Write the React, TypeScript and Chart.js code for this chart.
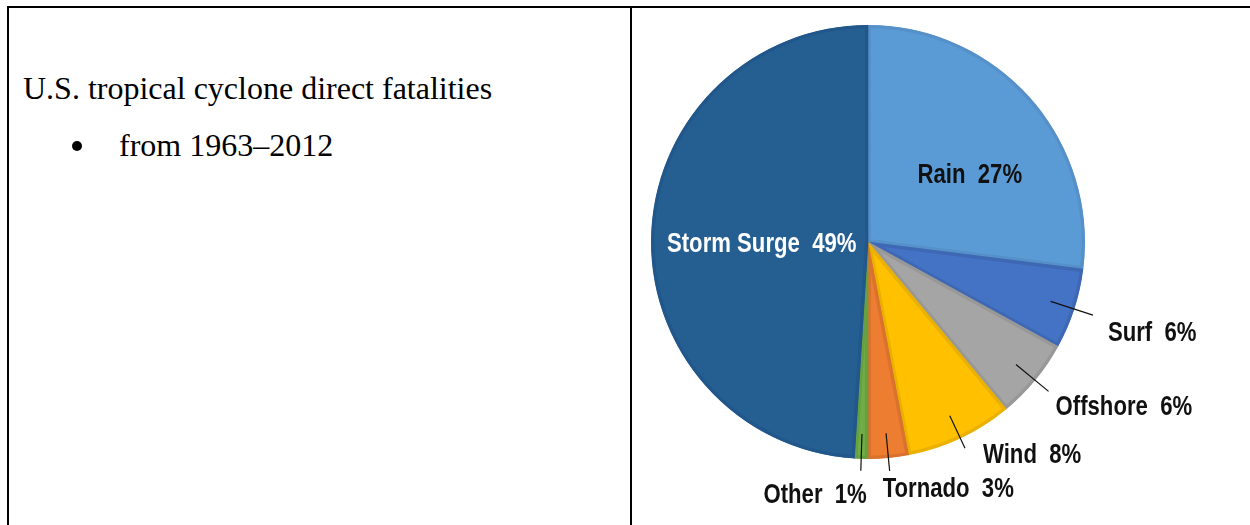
import React, { useEffect, useRef } from "react";
import { Chart, registerables } from "chart.js";

Chart.register(...registerables);

// ---- data ----
const categories = ["Rain", "Surf", "Offshore", "Wind", "Tornado", "Other", "Storm Surge"];
const percentages = [27, 6, 6, 8, 3, 1, 49];

// ---- styles ----
const fillColors = ["#5B9BD5", "#4472C4", "#A5A5A5", "#FFC000", "#ED7D31", "#70AD47", "#255E91"];
const borderColors = ["#5690C9", "#3E68B3", "#989898", "#EBB100", "#D9722C", "#66A040", "#21578A"];

type LabelStyle = {
  mode: "inside" | "leader";
  rFrac?: number;
  r0?: number;
  r1?: number;
  dx: number;
  dy: number;
  align: "left" | "center" | "right";
  color: string;
};

const labelStyles: LabelStyle[] = [
  { mode: "inside", rFrac: 0.57, dx: 9, dy: 23, align: "center", color: "#111111" },
  { mode: "leader", r0: 0.885, r1: 1.09, dx: 15, dy: 26, align: "left", color: "#111111" },
  { mode: "leader", r0: 0.885, r1: 1.08, dx: 7, dy: 24, align: "left", color: "#111111" },
  { mode: "leader", r0: 0.885, r1: 1.05, dx: 18, dy: 15, align: "left", color: "#111111" },
  { mode: "leader", r0: 0.885, r1: 1.06, dx: -7, dy: 26, align: "left", color: "#111111" },
  { mode: "leader", r0: 0.885, r1: 1.055, dx: 6, dy: 32, align: "right", color: "#111111" },
  { mode: "inside", rFrac: 0.49, dx: 0, dy: 13, align: "center", color: "#FFFFFF" },
];

const LABEL_FONT = "bold 27px 'Liberation Sans', Arial, sans-serif";
const NARROW = 0.82; // emulate a narrow (condensed) face

const labelPlugin = {
  id: "pieLabels",
  afterDatasetsDraw(chart: any) {
    const ctx: CanvasRenderingContext2D = chart.ctx;
    const meta = chart.getDatasetMeta(0);
    ctx.save();
    ctx.font = LABEL_FONT;
    ctx.textBaseline = "alphabetic";
    meta.data.forEach((arc: any, i: number) => {
      const st = labelStyles[i];
      const { x, y, startAngle, endAngle, outerRadius } = arc.getProps(
        ["x", "y", "startAngle", "endAngle", "outerRadius"],
        true
      );
      const mid = (startAngle + endAngle) / 2;
      const text = `${categories[i]}  ${percentages[i]}%`;
      let tx: number;
      let ty: number;
      if (st.mode === "inside") {
        const rr = (st.rFrac || 0.5) * outerRadius;
        tx = x + rr * Math.cos(mid) + st.dx;
        ty = y + rr * Math.sin(mid) + st.dy;
      } else {
        const a = (st.r0 || 0.88) * outerRadius;
        const b = (st.r1 || 1.06) * outerRadius;
        const x0 = x + a * Math.cos(mid);
        const y0 = y + a * Math.sin(mid);
        const x1 = x + b * Math.cos(mid);
        const y1 = y + b * Math.sin(mid);
        ctx.beginPath();
        ctx.strokeStyle = "#111111";
        ctx.lineWidth = 1.2;
        ctx.moveTo(x0, y0);
        ctx.lineTo(x1, y1);
        ctx.stroke();
        tx = x1 + st.dx;
        ty = y1 + st.dy;
      }
      const w = ctx.measureText(text).width * NARROW;
      let left = tx;
      if (st.align === "center") left = tx - w / 2;
      else if (st.align === "right") left = tx - w;
      ctx.save();
      ctx.translate(left, ty);
      ctx.scale(NARROW, 1);
      ctx.fillStyle = st.color;
      ctx.textAlign = "left";
      ctx.fillText(text, 0, 0);
      ctx.restore();
    });
    ctx.restore();
  },
};

function PieChart() {
  const ref = useRef<HTMLCanvasElement | null>(null);
  useEffect(() => {
    if (!ref.current) return;
    const chart = new Chart(ref.current, {
      type: "pie",
      data: {
        labels: categories,
        datasets: [
          {
            data: percentages,
            backgroundColor: fillColors,
            borderColor: borderColors,
            borderWidth: 3,
            borderAlign: "inner",
            hoverOffset: 0,
          } as any,
        ],
      },
      options: {
        responsive: false,
        animation: false,
        radius: 217,
        layout: { padding: { left: 0, top: 0, right: 146, bottom: 49 } },
        plugins: {
          legend: { display: false },
          tooltip: { enabled: false },
        },
      } as any,
      plugins: [labelPlugin],
    });
    return () => chart.destroy();
  }, []);
  return (
    <canvas
      ref={ref}
      width={618}
      height={517}
      style={{ position: "absolute", left: 632, top: 8, width: 618, height: 517 }}
    />
  );
}

export default function App() {
  const serif = "'Liberation Serif', 'Times New Roman', serif";
  return (
    <div
      style={{
        position: "absolute",
        left: 0,
        top: 0,
        width: 1250,
        height: 525,
        overflow: "hidden",
        background: "#ffffff",
      }}
    >
      <PieChart />
      <div style={{ position: "absolute", left: 7, top: 6, width: 1260, height: 2, background: "#000" }} />
      <div style={{ position: "absolute", left: 7, top: 6, width: 2, height: 540, background: "#000" }} />
      <div style={{ position: "absolute", left: 630, top: 6, width: 2, height: 540, background: "#000" }} />
      <div
        style={{
          position: "absolute",
          left: 23,
          top: 70,
          fontFamily: serif,
          fontSize: 32,
          lineHeight: "normal",
          color: "#000",
          whiteSpace: "nowrap",
        }}
      >
        U.S. tropical cyclone direct fatalities
      </div>
      <div
        style={{
          position: "absolute",
          left: 72,
          top: 141,
          width: 10,
          height: 10,
          borderRadius: "50%",
          background: "#000",
        }}
      />
      <div
        style={{
          position: "absolute",
          left: 119,
          top: 127,
          fontFamily: serif,
          fontSize: 32,
          lineHeight: "normal",
          color: "#000",
          whiteSpace: "nowrap",
        }}
      >
        from 1963–2012
      </div>
    </div>
  );
}
